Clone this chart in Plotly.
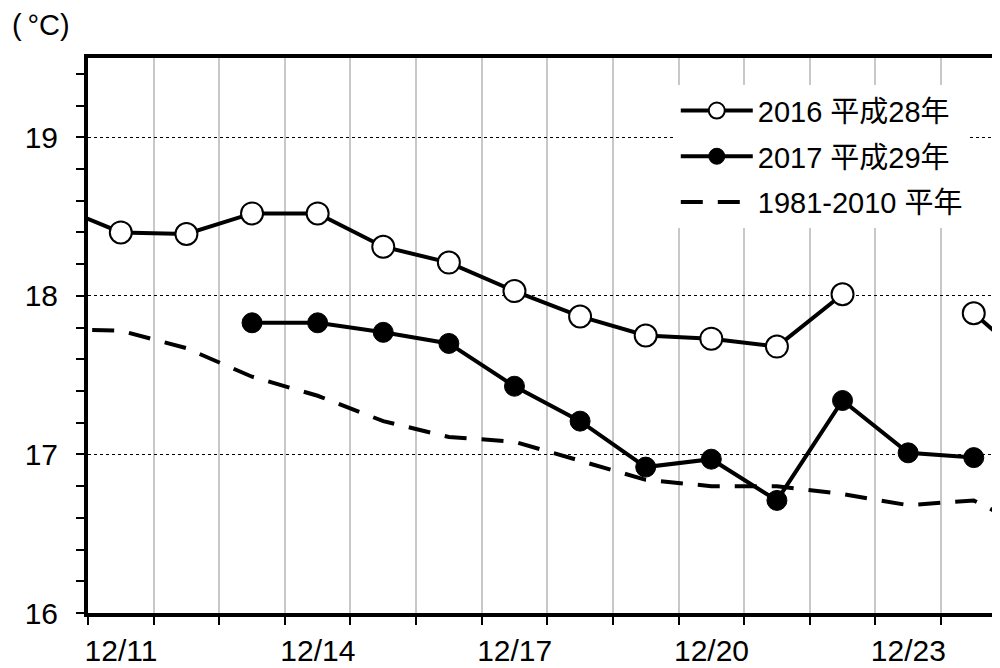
import plotly.graph_objects as go

# Day positions (values plotted at mid-day, x = day + 0.5)
days_2016 = [10.5, 11.5, 12.5, 13.5, 14.5, 15.5, 16.5, 17.5, 18.5, 19.5, 20.5, 21.5, 22.5, 23.5, 24.5, 25.5]
temp_2016 = [18.57, 18.40, 18.39, 18.52, 18.52, 18.31, 18.21, 18.03, 17.87, 17.75, 17.73, 17.68, 18.01, None, 17.89, 17.53]

days_2017 = [13.5, 14.5, 15.5, 16.5, 17.5, 18.5, 19.5, 20.5, 21.5, 22.5, 23.5, 24.5]
temp_2017 = [17.83, 17.83, 17.77, 17.70, 17.43, 17.21, 16.92, 16.97, 16.71, 17.34, 17.01, 16.98]

days_norm = [10.5, 11.5, 12.5, 13.5, 14.5, 15.5, 16.5, 17.5, 18.5, 19.5, 20.5, 21.5, 22.5, 23.5, 24.5, 25.5]
temp_norm = [17.79, 17.78, 17.67, 17.49, 17.37, 17.21, 17.11, 17.08, 16.96, 16.84, 16.80, 16.80, 16.75, 16.68, 16.71, 16.50]

tick_days = list(range(11, 26))
tick_text = [f"12/{d}" if (d - 11) % 3 == 0 else "" for d in tick_days]

FONT = "Liberation Sans, Arial, Noto Sans CJK JP, sans-serif"

fig = go.Figure()
fig.add_trace(go.Scatter(
    x=days_2016, y=temp_2016, mode="lines+markers", name="2016 平成28年",
    legendgroup="a", connectgaps=False,
    line=dict(color="black", width=4),
    marker=dict(symbol="circle", size=22, color="white", line=dict(color="black", width=2)),
))
fig.add_trace(go.Scatter(
    x=days_2017, y=temp_2017, mode="lines+markers", name="2017 平成29年",
    legendgroup="b",
    line=dict(color="black", width=4),
    marker=dict(symbol="circle", size=20, color="black", line=dict(color="black", width=1)),
))
fig.add_trace(go.Scatter(
    x=days_norm, y=temp_norm, mode="lines", name="1981-2010 平年",
    legendgroup="c",
    line=dict(color="black", width=4, dash="22px,15px"),
))

fig.update_layout(
    width=992, height=660,
    margin=dict(l=80, r=0, t=50, b=55, autoexpand=False),
    plot_bgcolor="white", paper_bgcolor="white",
    font=dict(family=FONT, size=30, color="black"),
    showlegend=True,
    legend=dict(
        x=0.6445, y=0.951, xanchor="left", yanchor="top",
        bgcolor="white", borderwidth=0,
        font=dict(size=29, family=FONT),
        tracegroupgap=5, itemwidth=72,
    ),
    annotations=[dict(
        text="(\u2009°C)", xref="paper", yref="paper", x=-0.0855, y=1.0, yshift=33,
        xanchor="left", yanchor="middle", showarrow=False,
        font=dict(size=29, family=FONT),
    )],
)

fig.update_xaxes(
    range=[11, 24.9], automargin=False,
    tickmode="array", tickvals=tick_days, ticktext=tick_text,
    ticks="outside", ticklen=8, tickwidth=1.5, tickcolor="black",
    ticklabelshift=33,
    showgrid=True, gridcolor="#c8c8c8", gridwidth=1.5,
    showline=True, linecolor="black", linewidth=4, mirror=True,
    zeroline=False, tickfont=dict(size=30),
)
fig.update_yaxes(
    range=[16, 19.5], automargin=False,
    tickmode="linear", tick0=16, dtick=1,
    ticks="outside", ticklen=8, tickwidth=1.5, tickcolor="black",
    minor=dict(dtick=0.2, tick0=16, ticks="outside", ticklen=8, tickwidth=1.5, tickcolor="black", showgrid=False),
    showgrid=True, gridcolor="black", gridwidth=1, griddash="dot",
    showline=True, linecolor="black", linewidth=4, mirror=False,
    zeroline=False, tickfont=dict(size=30), ticklabelstandoff=12,
)

fig.write_html("out.html")
